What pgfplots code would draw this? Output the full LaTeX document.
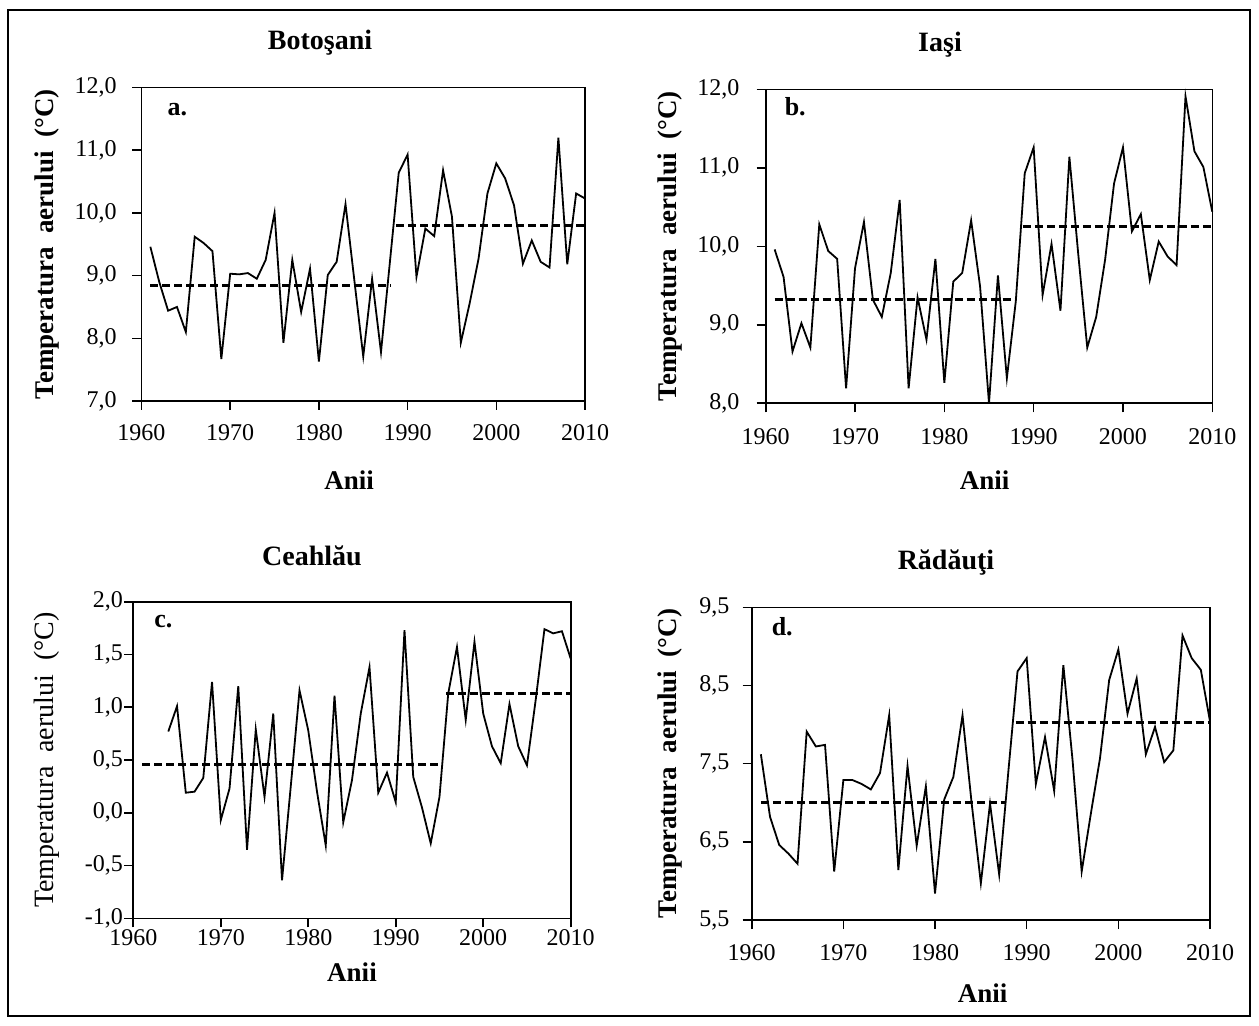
\documentclass[border=0pt]{standalone}
\usepackage{pgfplots}
\pgfplotsset{compat=1.18}
\usepackage{fontspec}
\setmainfont{Liberation Serif}
\pgfplotsset{
  panel/.style={
    scale only axis, anchor=south west, clip=false,
    xmin=1960, xmax=2010, xtick={1960,1970,...,2010},
    tick align=outside, xtick pos=bottom, ytick pos=left,
    major tick length=4.5pt,
    axis line style={line width=0.8pt},
    every tick/.style={black, line width=0.8pt},
    tick label style={font=\fontsize{12}{14}\selectfont},
    /pgf/number format/assume math mode=true,
    xticklabel style={/pgf/number format/1000 sep={}, anchor=center},
    yticklabel style={/pgf/number format/fixed, /pgf/number format/fixed zerofill, /pgf/number format/precision=1, /pgf/number format/use comma},
    xlabel={Anii},
    ylabel={Temperatura~ aerului~ (°C)},
  },
  ser/.style={black, line width=0.9pt, mark=none},
  avg/.style={black, line width=1.6pt, dash pattern=on 4pt off 2pt, mark=none},
}
\begin{document}
\begin{tikzpicture}
\fill[white] (0,0) rectangle (629.5pt,-513pt);
\path[use as bounding box] (0,0) rectangle (629.5pt,-513pt);
\draw[line width=1.1pt] (4pt,-5pt) rectangle (625pt,-508pt);

\node[font=\fontsize{14}{16}\selectfont\bfseries] at (160pt,-21.5pt) {Botoşani};
\node[font=\fontsize{14}{16}\selectfont\bfseries] at (470pt,-22.5pt) {Iaşi};
\node[font=\fontsize{14}{16}\selectfont\bfseries] at (156pt,-278pt) {Ceahlău};
\node[font=\fontsize{14}{16}\selectfont\bfseries] at (473pt,-281.5pt) {Rădăuţi};

% Panel a
\begin{axis}[panel, at={(70.75pt,-200.5pt)}, width=221.75pt, height=156.75pt,
  ymin=7, ymax=12, ytick={7,8,...,12},
  xticklabel style={yshift=-11.5pt},
  yticklabel style={anchor=east, inner sep=0pt, xshift=-7.75pt},
  xlabel style={font=\fontsize{13.5}{15}\selectfont\bfseries, at={(axis description cs:0.468,-0.252)}, anchor=center},
  ylabel style={font=\fontsize{13.5}{15}\selectfont\bfseries, at={(axis description cs:-0.2131,0.5)}, anchor=center},
]
\addplot[ser] coordinates {
(1961,9.46)(1962,8.90)(1963,8.44)(1964,8.50)(1965,8.10)(1966,9.62)(1967,9.52)(1968,9.39)(1969,7.67)(1970,9.03)
(1971,9.02)(1972,9.04)(1973,8.95)(1974,9.25)(1975,10.00)(1976,7.93)(1977,9.25)(1978,8.42)(1979,9.11)(1980,7.63)
(1981,9.01)(1982,9.22)(1983,10.14)(1984,8.92)(1985,7.71)(1986,8.95)(1987,7.78)(1988,9.21)(1989,10.64)(1990,10.93)
(1991,8.98)(1992,9.75)(1993,9.63)(1994,10.68)(1995,9.94)(1996,7.93)(1997,8.56)(1998,9.27)(1999,10.31)(2000,10.79)
(2001,10.55)(2002,10.12)(2003,9.19)(2004,9.56)(2005,9.22)(2006,9.13)(2007,11.20)(2008,9.18)(2009,10.31)(2010,10.23)};
\addplot[avg] coordinates {(1961,8.84)(1988.1,8.84)};
\addplot[avg] coordinates {(1988.7,9.80)(2010,9.80)};
\node[anchor=base west, font=\fontsize{13}{15}\selectfont\bfseries] at ([xshift=9.5pt,yshift=-13.75pt]rel axis cs:0,1) {a.};
\end{axis}

% Panel b
\begin{axis}[panel, at={(382.85pt,-201.65pt)}, width=223.3pt, height=157pt,
  ymin=8, ymax=12, ytick={8,9,...,12},
  xticklabel style={yshift=-12pt},
  yticklabel style={anchor=east, inner sep=0pt, xshift=-8.5pt},
  xlabel style={font=\fontsize{13.5}{15}\selectfont\bfseries, at={(axis description cs:0.49,-0.244)}, anchor=center},
  ylabel style={font=\fontsize{13.5}{15}\selectfont\bfseries, at={(axis description cs:-0.2150,0.5)}, anchor=center},
]
\addplot[ser] coordinates {
(1961,9.96)(1962,9.61)(1963,8.66)(1964,9.02)(1965,8.71)(1966,10.28)(1967,9.94)(1968,9.84)(1969,8.19)(1970,9.72)
(1971,10.31)(1972,9.32)(1973,9.10)(1974,9.66)(1975,10.59)(1976,8.19)(1977,9.35)(1978,8.81)(1979,9.84)(1980,8.26)
(1981,9.55)(1982,9.66)(1983,10.33)(1984,9.49)(1985,8.00)(1986,9.63)(1987,8.32)(1988,9.30)(1989,10.93)(1990,11.26)
(1991,9.38)(1992,10.03)(1993,9.18)(1994,11.14)(1995,9.89)(1996,8.71)(1997,9.10)(1998,9.83)(1999,10.80)(2000,11.26)
(2001,10.19)(2002,10.41)(2003,9.57)(2004,10.06)(2005,9.87)(2006,9.76)(2007,11.91)(2008,11.21)(2009,11.01)(2010,10.44)};
\addplot[avg] coordinates {(1961,9.32)(1988,9.32)};
\addplot[avg] coordinates {(1988.8,10.25)(2010,10.25)};
\node[anchor=base west, font=\fontsize{13}{15}\selectfont\bfseries] at ([xshift=6pt,yshift=-13pt]rel axis cs:0,1) {b.};
\end{axis}

% Panel c
\begin{axis}[panel, at={(66.65pt,-459.15pt)}, width=218.7pt, height=158.3pt,
  ymin=-1, ymax=2, ytick={-1,-0.5,...,2.01},
  xticklabel style={yshift=-5pt, inner sep=0.5pt},
  yticklabel style={anchor=east, inner sep=0pt, xshift=-0.5pt},
  xlabel style={font=\fontsize{13.5}{15}\selectfont\bfseries, at={(axis description cs:0.5,-0.170)}, anchor=center},
  ylabel style={font=\fontsize{14}{16}\selectfont, at={(axis description cs:-0.1973,0.5)}, anchor=center},
]
\addplot[ser] coordinates {
(1964,0.77)(1965,1.01)(1966,0.19)(1967,0.20)(1968,0.33)(1969,1.24)(1970,-0.07)
(1971,0.23)(1972,1.20)(1973,-0.35)(1974,0.79)(1975,0.15)(1976,0.94)(1977,-0.64)(1978,0.25)(1979,1.16)(1980,0.78)
(1981,0.20)(1982,-0.31)(1983,1.11)(1984,-0.09)(1985,0.31)(1986,0.94)(1987,1.38)(1988,0.19)(1989,0.38)(1990,0.10)
(1991,1.73)(1992,0.34)(1993,0.05)(1994,-0.29)(1995,0.15)(1996,1.13)(1997,1.57)(1998,0.88)(1999,1.62)(2000,0.94)
(2001,0.63)(2002,0.47)(2003,1.03)(2004,0.63)(2005,0.45)(2006,1.07)(2007,1.74)(2008,1.70)(2009,1.72)(2010,1.46)};
\addplot[avg] coordinates {(1961,0.46)(1995.4,0.46)};
\addplot[avg] coordinates {(1995.8,1.13)(2010,1.13)};
\node[anchor=base west, font=\fontsize{13}{15}\selectfont\bfseries] at ([xshift=7pt,yshift=-13pt]rel axis cs:0,1) {c.};
\end{axis}

% Panel d
\begin{axis}[panel, at={(375.85pt,-460pt)}, width=229.15pt, height=156.35pt,
  ymin=5.5, ymax=9.5, ytick={5.5,6.5,...,9.5},
  xticklabel style={yshift=-12pt},
  yticklabel style={anchor=east, inner sep=0pt, xshift=-6.5pt},
  xlabel style={font=\fontsize{13.5}{15}\selectfont\bfseries, at={(axis description cs:0.504,-0.2335)}, anchor=center},
  ylabel style={font=\fontsize{13.5}{15}\selectfont\bfseries, at={(axis description cs:-0.1783,0.5)}, anchor=center},
]
\addplot[ser] coordinates {
(1961,7.62)(1962,6.82)(1963,6.46)(1964,6.35)(1965,6.22)(1966,7.91)(1967,7.72)(1968,7.74)(1969,6.12)(1970,7.29)
(1971,7.29)(1972,7.24)(1973,7.17)(1974,7.38)(1975,8.12)(1976,6.14)(1977,7.47)(1978,6.45)(1979,7.21)(1980,5.84)
(1981,7.04)(1982,7.33)(1983,8.12)(1984,6.99)(1985,5.97)(1986,6.99)(1987,6.08)(1988,7.40)(1989,8.68)(1990,8.85)
(1991,7.24)(1992,7.84)(1993,7.15)(1994,8.76)(1995,7.55)(1996,6.12)(1997,6.86)(1998,7.57)(1999,8.57)(2000,8.96)
(2001,8.14)(2002,8.59)(2003,7.62)(2004,7.97)(2005,7.52)(2006,7.67)(2007,9.14)(2008,8.85)(2009,8.70)(2010,8.04)};
\addplot[avg] coordinates {(1961,7.00)(1987.6,7.00)};
\addplot[avg] coordinates {(1988.8,8.03)(2010,8.03)};
\node[anchor=base west, font=\fontsize{13}{15}\selectfont\bfseries] at ([xshift=6.5pt,yshift=-14pt]rel axis cs:0,1) {d.};
\end{axis}
\end{tikzpicture}
\end{document}
